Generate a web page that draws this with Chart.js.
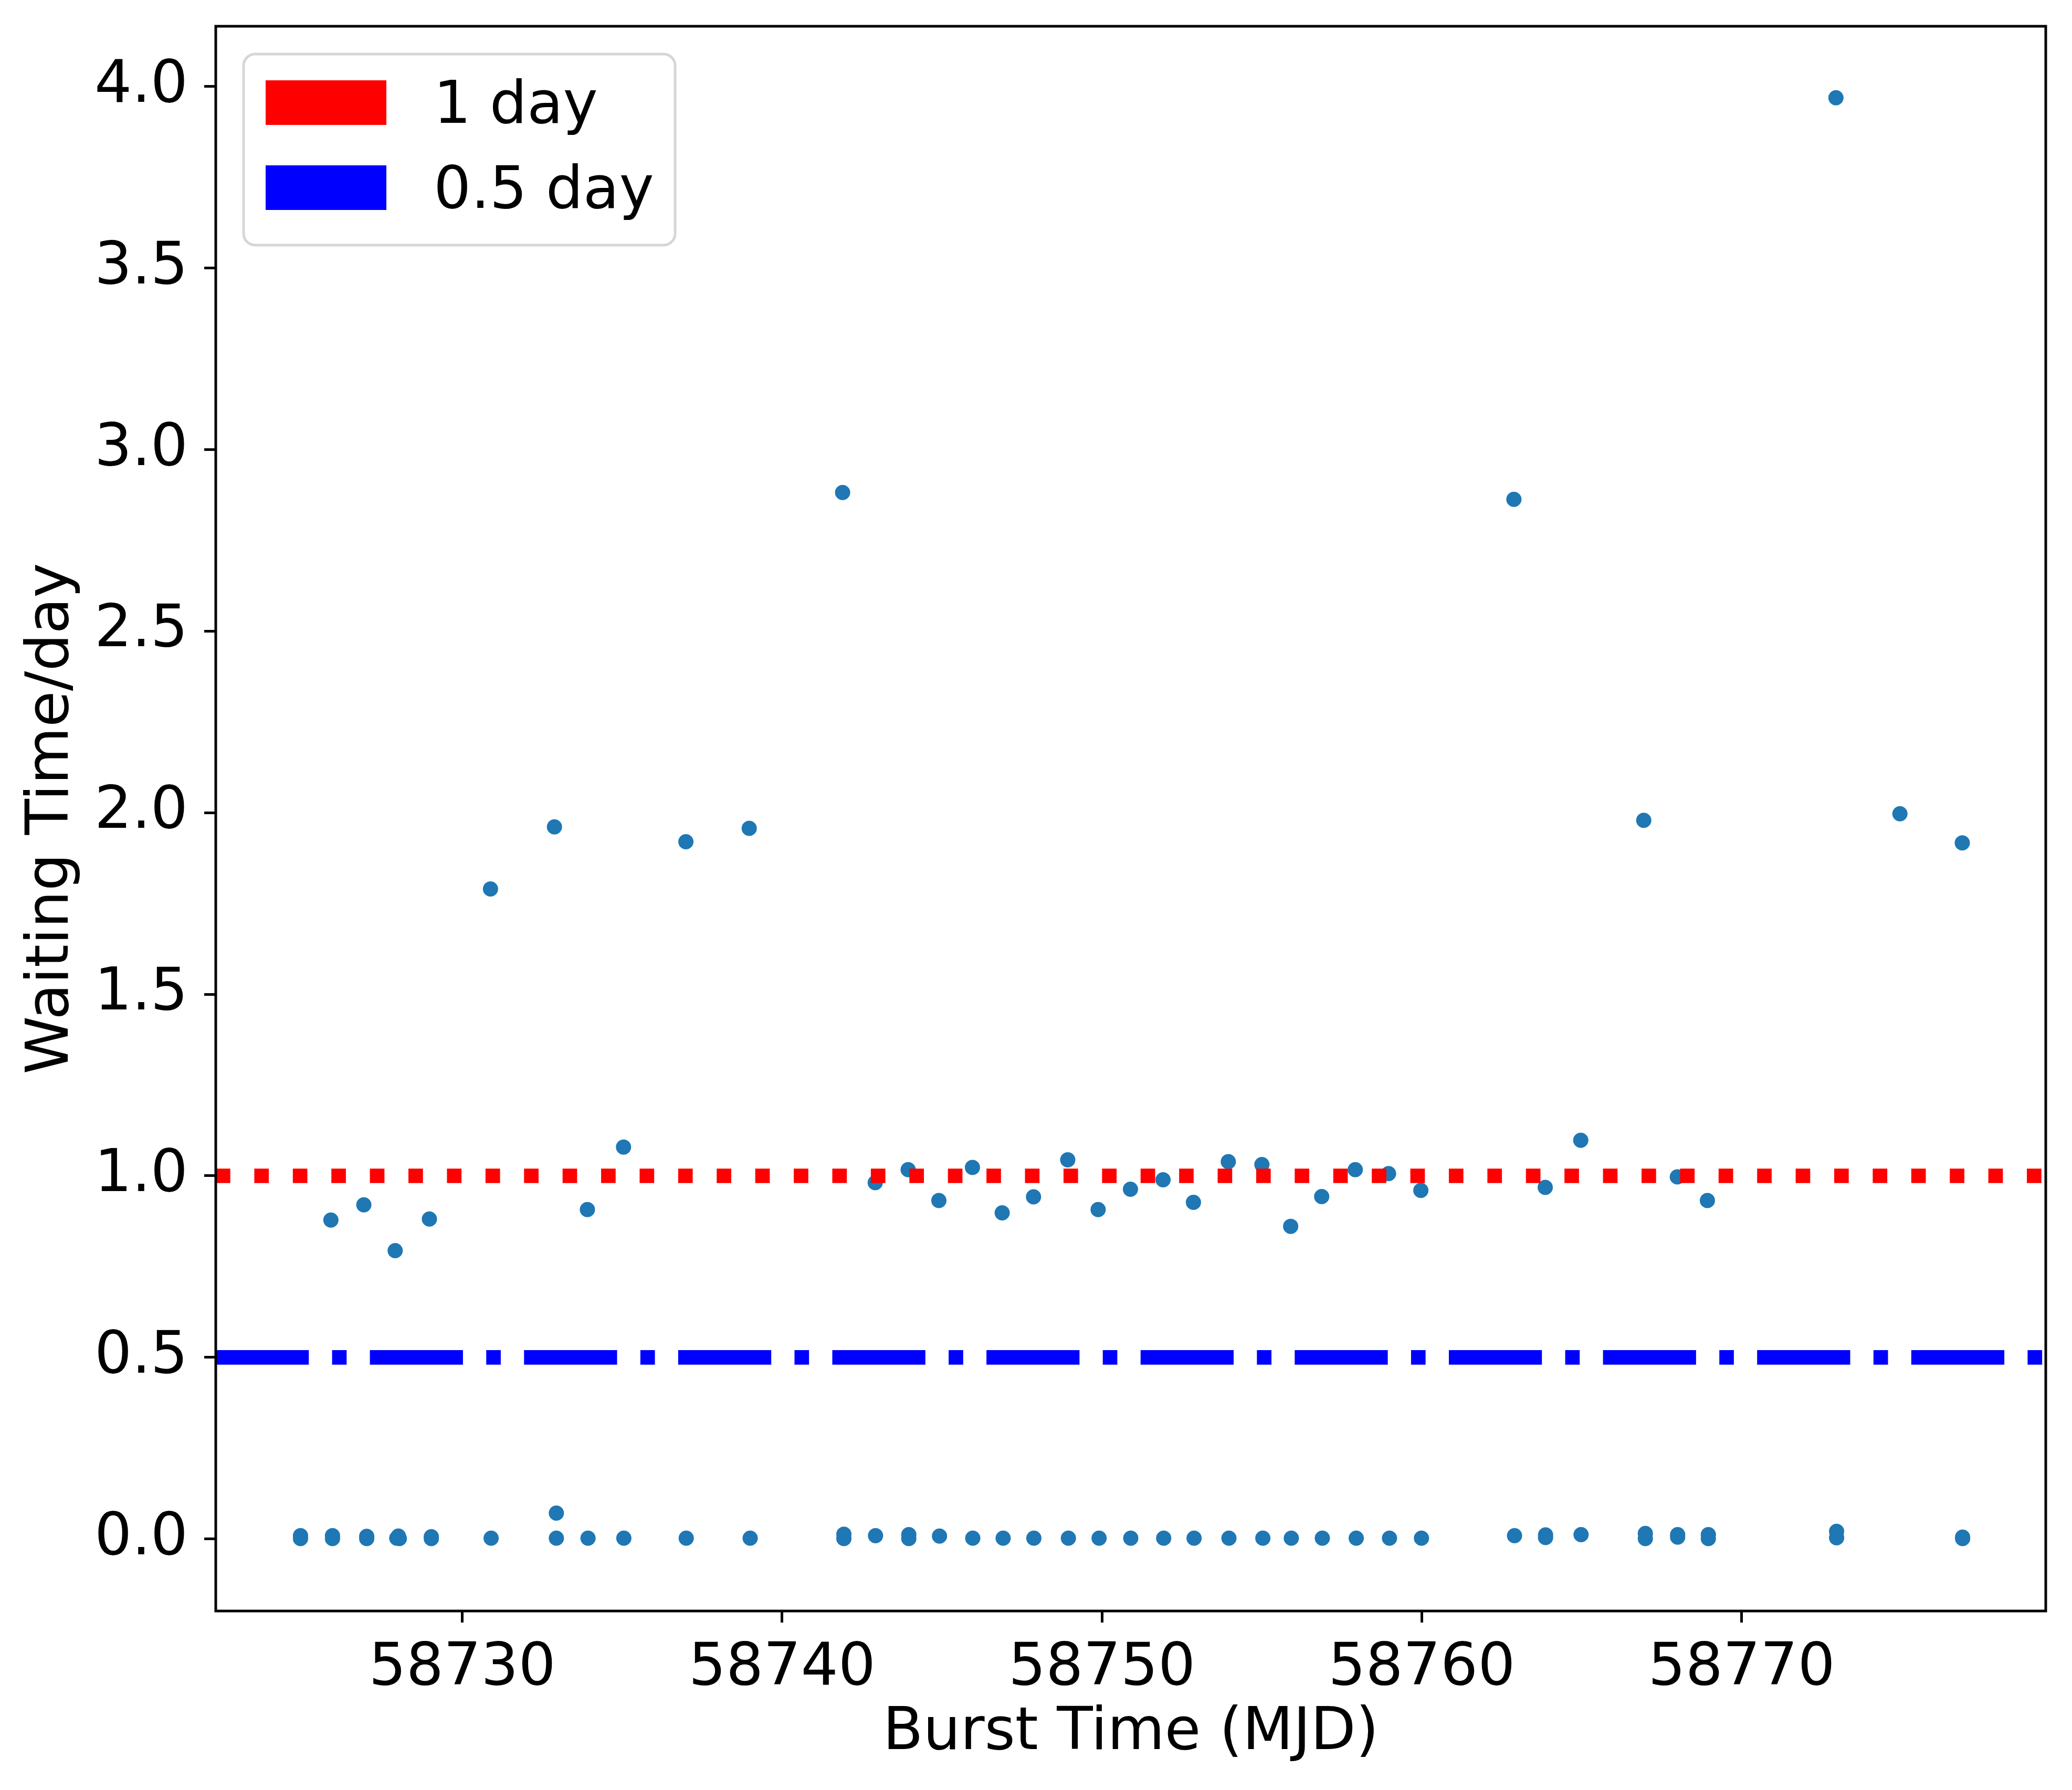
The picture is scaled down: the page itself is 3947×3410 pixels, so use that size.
<!DOCTYPE html>
<html>
<head>
<meta charset="utf-8">
<script src="https://cdn.jsdelivr.net/npm/chart.js@4.4.1/dist/chart.umd.min.js"></script>
<style>
  html, body { margin: 0; padding: 0; background: #ffffff; }
  #wrap { width: 3947px; height: 3410px; }
</style>
</head>
<body>
<div id="wrap"><canvas id="chart" width="3947" height="3410"></canvas></div>
<script>
// burst times (MJD) and waiting time to the previous burst (day)
const burstTime = [
    58724.94, 58724.94, 58725.89, 58725.94, 58725.94, 58726.92, 58727.01, 58727.01,
    58727.90, 58727.95, 58728.03, 58728.00, 58728.97, 58729.03, 58729.03, 58730.88,
    58730.90, 58732.88, 58732.94, 58732.94, 58733.91, 58733.93, 58735.04, 58735.05,
    58736.99, 58737.00, 58738.97, 58739.00, 58741.89, 58741.93, 58741.93, 58742.91,
    58742.92, 58743.94, 58743.96, 58743.96, 58744.90, 58744.92, 58745.95, 58745.96,
    58746.88, 58746.91, 58747.86, 58747.87, 58748.93, 58748.95, 58749.88, 58749.91,
    58750.89, 58750.90, 58751.91, 58751.93, 58752.86, 58752.88, 58753.95, 58753.97,
    58755.00, 58755.03, 58755.90, 58755.92, 58756.87, 58756.89, 58757.92, 58757.95,
    58758.96, 58758.99, 58759.97, 58759.99, 58762.88, 58762.90, 58763.86, 58763.87,
    58763.87, 58764.97, 58764.98, 58766.94, 58766.99, 58766.99, 58767.99, 58768.00,
    58768.00, 58768.93, 58768.96, 58768.96, 58772.95, 58772.97, 58772.97, 58774.95,
    58776.90, 58776.91, 58776.91
];
const waitTime = [
    0.001, 0.009, 0.878, 0.001, 0.009, 0.920, 0.001, 0.007,
    0.794, 0.002, 0.001, 0.008, 0.881, 0.001, 0.006, 1.790,
    0.002, 1.961, 0.002, 0.071, 0.907, 0.002, 1.079, 0.002,
    1.920, 0.002, 1.957, 0.002, 2.882, 0.001, 0.013, 0.981,
    0.009, 1.017, 0.001, 0.012, 0.932, 0.008, 1.023, 0.002,
    0.898, 0.002, 0.942, 0.002, 1.044, 0.002, 0.907, 0.002,
    0.963, 0.002, 0.989, 0.002, 0.927, 0.002, 1.039, 0.002,
    1.031, 0.002, 0.861, 0.002, 0.943, 0.002, 1.017, 0.002,
    1.006, 0.002, 0.960, 0.002, 2.863, 0.009, 0.968, 0.004,
    0.011, 1.098, 0.012, 1.979, 0.001, 0.015, 0.997, 0.005,
    0.012, 0.932, 0.001, 0.012, 3.969, 0.003, 0.021, 1.997,
    1.917, 0.001, 0.005
];

const refLabels = ["1 day", "0.5 day"];
const refValues = [1.0, 0.5];
const refColors = ["#ff0000", "#0000ff"];

const xTicks = [58730, 58740, 58750, 58760, 58770];
const yTicks = [0.0, 0.5, 1.0, 1.5, 2.0, 2.5, 3.0, 3.5, 4.0];

const xMin = 58722.29, xMax = 58779.51;
const yMin = -0.1985, yMax = 4.166;

const FS = 112;
const LW = 27.7;   // reference line width
Chart.defaults.font.family = "'DejaVu Sans', sans-serif";
Chart.defaults.color = "#000000";

const points = burstTime.map((t, i) => ({ x: t, y: waitTime[i] }));

// matplotlib-like dotted and dash-dot patterns
const dashes = [[LW, 1.65 * LW], [6.4 * LW, 1.6 * LW, LW, 1.6 * LW]];

const refSets = refValues.map((v, i) => ({
    type: "line",
    label: refLabels[i],
    data: [{ x: xMin, y: v }, { x: xMax, y: v }],
    borderColor: refColors[i],
    backgroundColor: refColors[i],
    borderWidth: LW,
    borderDash: dashes[i],
    borderCapStyle: "butt",
    pointRadius: 0,
    fill: false,
}));

// top/right spines and the legend box inside the axes
const framePlugin = {
    id: "frame",
    afterDraw(chart) {
        const { ctx, chartArea: a } = chart;
        ctx.save();
        ctx.strokeStyle = "#000000";
        ctx.lineWidth = 5;
        ctx.strokeRect(a.left, a.top, a.right - a.left, a.bottom - a.top);

        const x0 = a.left + 53, y0 = a.top + 53, w = 822, h = 364, r = 22;
        ctx.beginPath();
        ctx.roundRect(x0, y0, w, h, r);
        ctx.fillStyle = "rgba(255,255,255,0.8)";
        ctx.fill();
        ctx.strokeStyle = "rgba(204,204,204,0.8)";
        ctx.lineWidth = 5;
        ctx.stroke();

        ctx.font = FS + "px 'DejaVu Sans'";
        ctx.textBaseline = "alphabetic";
        ctx.textAlign = "left";
        refSets.forEach((ds, i) => {
            const top = y0 + 50 + i * 162;
            ctx.fillStyle = ds.borderColor;
            ctx.fillRect(x0 + 42, top, 230, 85);
            ctx.fillStyle = "#000000";
            ctx.fillText(ds.label, x0 + 362, top + 81);
        });
        ctx.restore();
    }
};

new Chart(document.getElementById("chart"), {
    type: "scatter",
    data: {
        datasets: [
            ...refSets,
            {
                label: "bursts",
                data: points,
                backgroundColor: "#1f77b4",
                borderWidth: 0,
                pointRadius: 14.5,
                pointHoverRadius: 14.5,
            }
        ]
    },
    plugins: [framePlugin],
    options: {
        responsive: false,
        animation: false,
        devicePixelRatio: 1,
        layout: { padding: { top: 50, right: 50, left: 0, bottom: 0 } },
        plugins: {
            legend: { display: false },
            tooltip: { enabled: false },
        },
        scales: {
            x: {
                type: "linear",
                position: "bottom",
                min: xMin,
                max: xMax,
                afterBuildTicks: (s) => { s.ticks = xTicks.map(v => ({ value: v })); },
                afterFit: (s) => { s.height = 341; s.paddingLeft = 0; s.paddingRight = 0; },
                ticks: {
                    font: { size: FS },
                    padding: 22,
                    maxRotation: 0,
                    autoSkip: false,
                    callback: (v) => String(v),
                },
                grid: {
                    drawOnChartArea: false,
                    drawTicks: true,
                    tickLength: 22,
                    tickWidth: 5,
                    tickColor: "#000000",
                },
                border: { display: false },
                title: {
                    display: true,
                    text: "Burst Time (MJD)",
                    font: { size: FS },
                    padding: { top: 0, bottom: 40 },
                },
            },
            y: {
                type: "linear",
                position: "left",
                min: yMin,
                max: yMax,
                afterBuildTicks: (s) => { s.ticks = yTicks.map(v => ({ value: v })); },
                afterFit: (s) => { s.width = 411; s.paddingTop = 0; s.paddingBottom = 0; },
                ticks: {
                    font: { size: FS },
                    padding: 31,
                    autoSkip: false,
                    callback: (v) => v.toFixed(1),
                },
                grid: {
                    drawOnChartArea: false,
                    drawTicks: true,
                    tickLength: 22,
                    tickWidth: 5,
                    tickColor: "#000000",
                },
                border: { display: false },
                title: {
                    display: true,
                    text: "Waiting Time/day",
                    font: { size: FS },
                    padding: { top: 33, bottom: 0 },
                },
            },
        },
    },
});
</script>
</body>
</html>
